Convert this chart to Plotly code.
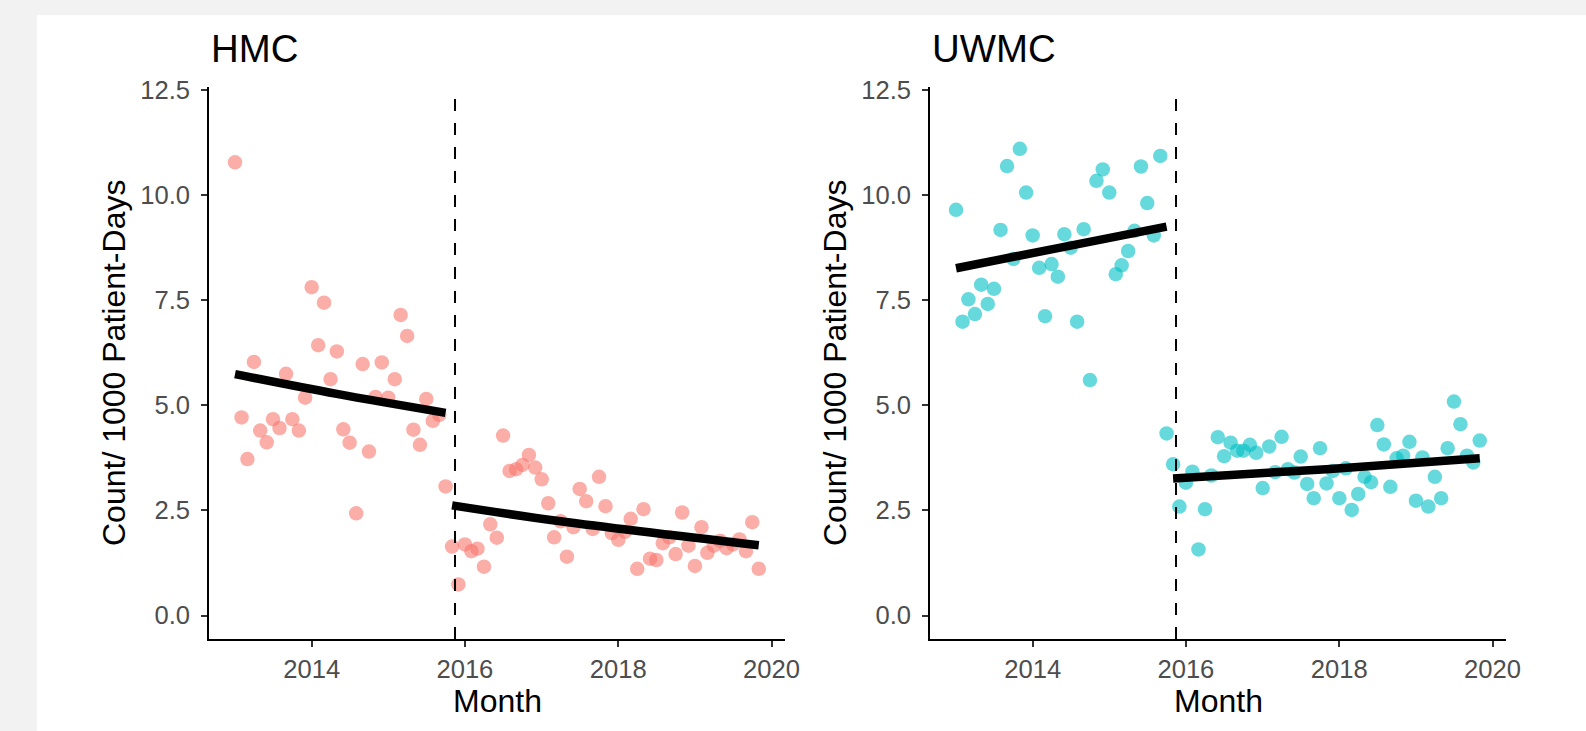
import plotly.graph_objects as go
import pandas as pd

# ---------------- data ----------------
months = pd.date_range("2013-01-01", "2019-11-01", freq="MS")  # 83 monthly observations
intervention = "2015-11-15"

hmc_pre = [10.78, 4.71, 3.72, 6.03, 4.40, 4.12, 4.67, 4.46, 5.75, 4.67,
           4.40, 5.18, 7.81, 6.43, 7.44, 5.62, 6.28, 4.43, 4.11, 2.43,
           5.98, 3.90, 5.20, 6.02, 5.18, 5.62, 7.15, 6.65, 4.42, 4.06,
           5.15, 4.63, 4.77, 3.07]
hmc_post = [1.64, 0.74, 1.69, 1.53, 1.59, 1.16, 2.17, 1.85, 4.28, 3.44,
            3.48, 3.58, 3.82, 3.52, 3.24, 2.67, 1.86, 2.24, 1.40, 2.10,
            3.01, 2.72, 2.06, 3.30, 2.60, 1.96, 1.80, 1.99, 2.30, 1.11,
            2.53, 1.35, 1.32, 1.72, 1.86, 1.46, 2.45, 1.66, 1.18, 2.10,
            1.49, 1.66, 1.78, 1.60, 1.69, 1.81, 1.53, 2.22, 1.11]

uwmc_pre = [9.65, 6.99, 7.52, 7.17, 7.87, 7.41, 7.77, 9.17, 10.69, 8.48,
            11.10, 10.06, 9.04, 8.27, 7.12, 8.36, 8.06, 9.07, 8.75, 6.99,
            9.19, 5.60, 10.34, 10.61, 10.06, 8.12, 8.33, 8.67, 9.15, 10.68,
            9.81, 9.04, 10.93, 4.33]
uwmc_post = [3.60, 2.59, 3.16, 3.42, 1.57, 2.53, 3.33, 4.24, 3.79, 4.11,
             3.92, 3.92, 4.06, 3.87, 3.03, 4.02, 3.41, 4.25, 3.48, 3.40,
             3.78, 3.13, 2.79, 3.98, 3.14, 3.44, 2.79, 3.50, 2.51, 2.89,
             3.30, 3.17, 4.53, 4.07, 3.06, 3.74, 3.80, 4.13, 2.73, 3.76,
             2.59, 3.30, 2.79, 3.98, 5.09, 4.55, 3.80, 3.64, 4.16]

# fitted segmented-regression lines (month index, fitted value)
hmc_fit_pre_idx = [0, 16, 33]
hmc_fit_pre_val = [5.74, 5.27, 4.82]
hmc_fit_post_idx = [34, 51, 82]
hmc_fit_post_val = [2.62, 2.24, 1.67]
uwmc_fit_pre_idx = [0, 16, 33]
uwmc_fit_pre_val = [8.26, 8.74, 9.25]
uwmc_fit_post_idx = [34, 58, 82]
uwmc_fit_post_val = [3.26, 3.48, 3.74]

panel_titles = ["HMC", "UWMC"]
year_ticks = ["2014-01-01", "2016-01-01", "2018-01-01", "2020-01-01"]
year_labels = ["2014", "2016", "2018", "2020"]
y_ticks = [0, 2.5, 5, 7.5, 10, 12.5]
y_labels = ["0.0", "2.5", "5.0", "7.5", "10.0", "12.5"]

# ---------------- styling ----------------
W, H = 1586, 731
FONT = "Liberation Sans, Arial, Helvetica, sans-serif"
COL_HMC = "rgba(248,118,109,0.6)"
COL_UW = "rgba(0,191,196,0.6)"

pre_dates = list(months[:34])
post_dates = list(months[34:])

fig = go.Figure()

panels = [
    (hmc_pre, hmc_post, COL_HMC, hmc_fit_pre_idx, hmc_fit_pre_val, hmc_fit_post_idx, hmc_fit_post_val, "x", "y"),
    (uwmc_pre, uwmc_post, COL_UW, uwmc_fit_pre_idx, uwmc_fit_pre_val, uwmc_fit_post_idx, uwmc_fit_post_val, "x2", "y2"),
]
for pre, post, col, fpi, fpv, fqi, fqv, xa, ya in panels:
    fig.add_trace(go.Scatter(x=pre_dates + post_dates, y=pre + post, mode="markers",
                             marker=dict(size=14.5, color=col, line=dict(width=0)),
                             xaxis=xa, yaxis=ya, hoverinfo="x+y"))
    fig.add_trace(go.Scatter(x=[months[i] for i in fpi], y=fpv, mode="lines",
                             line=dict(color="black", width=8.5, shape="spline"),
                             xaxis=xa, yaxis=ya))
    fig.add_trace(go.Scatter(x=[months[i] for i in fqi], y=fqv, mode="lines",
                             line=dict(color="black", width=8.5, shape="spline"),
                             xaxis=xa, yaxis=ya))

xr = ["2012-08-30", "2020-03-05"]
yr = [-0.559, 12.571]
ydom = [(H - 639) / H, (H - 87) / H]
xdoms = [[209 / W, 785 / W], [930 / W, 1506 / W]]

common_x = dict(type="date", range=xr, tickvals=year_ticks, ticktext=year_labels,
                showline=True, linecolor="black", linewidth=1.6, ticks="outside",
                ticklen=6, tickwidth=1.6, tickcolor="#333333",
                tickfont=dict(family=FONT, size=25.6, color="#4d4d4d"),
                showgrid=False, zeroline=False, ticklabelstandoff=0, fixedrange=True)
common_y = dict(range=yr, tickvals=y_ticks, ticktext=y_labels,
                showline=True, linecolor="black", linewidth=1.6, ticks="outside",
                ticklen=6, tickwidth=1.6, tickcolor="#333333",
                tickfont=dict(family=FONT, size=25.6, color="#4d4d4d"),
                showgrid=False, zeroline=False, ticklabelstandoff=6, fixedrange=True)

fig.update_layout(
    width=W, height=H, margin=dict(l=0, r=0, t=0, b=0, pad=0, autoexpand=False),
    autosize=False,
    paper_bgcolor="#f2f2f2", plot_bgcolor="white", showlegend=False,
    xaxis=dict(domain=xdoms[0], anchor="y", **common_x),
    yaxis=dict(domain=ydom, anchor="x", **common_y),
    xaxis2=dict(domain=xdoms[1], anchor="y2", **common_x),
    yaxis2=dict(domain=ydom, anchor="x2", **common_y),
)

shapes = [dict(type="rect", xref="paper", yref="paper", x0=37 / W, x1=1, y0=0, y1=(H - 15) / H,
               fillcolor="white", line=dict(width=0), layer="below")]
for xa in ["x", "x2"]:
    shapes.append(dict(type="line", xref=xa, yref=f"{'y' if xa == 'x' else 'y2'} domain",
                       x0=intervention, x1=intervention, y0=0, y1=0.98,
                       line=dict(color="black", width=2, dash="12px,12px")))
fig.update_layout(shapes=shapes)

ann = []
for i, t in enumerate(panel_titles):
    left = xdoms[i][0]
    ann.append(dict(text=t, x=left, y=(H - 48) / H, xref="paper", yref="paper",
                    xanchor="left", yanchor="middle", showarrow=False,
                    font=dict(family=FONT, size=38.4, color="black")))
    ann.append(dict(text="Month", x=(xdoms[i][0] + xdoms[i][1]) / 2, y=(H - 701) / H,
                    xref="paper", yref="paper", xanchor="center", yanchor="middle",
                    showarrow=False, font=dict(family=FONT, size=32, color="black")))
    ann.append(dict(text="Count/ 1000 Patient-Days", x=left - 95 / W, y=(ydom[0] + ydom[1]) / 2,
                    xref="paper", yref="paper", xanchor="center", yanchor="middle",
                    textangle=-90, showarrow=False, font=dict(family=FONT, size=32, color="black")))
fig.update_layout(annotations=ann)

fig.write_html("out.html", config={"responsive": False, "displayModeBar": False},
               post_script="document.body.style.margin='0';document.body.style.padding='0';"
                           "document.body.style.overflow='hidden';"
                           "document.documentElement.style.overflow='hidden';")
